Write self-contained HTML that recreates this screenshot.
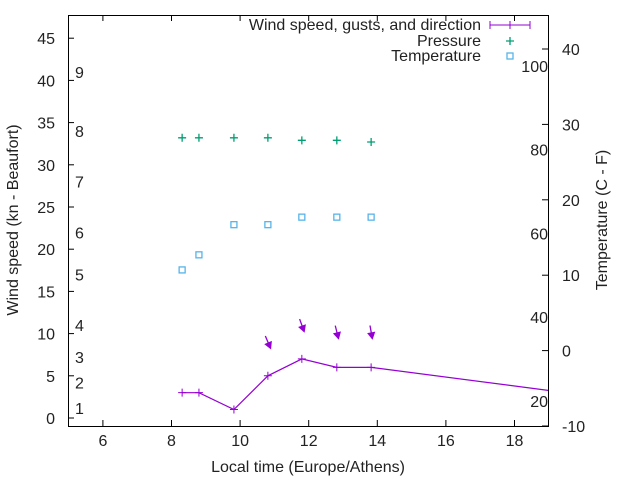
<!DOCTYPE html>
<html><head><meta charset="utf-8"><style>
body{margin:0;background:#fff}
svg text{font-family:"Liberation Sans",sans-serif;font-size:16px;fill:#222}
</style></head><body>
<svg id="chart" width="640" height="480" xmlns="http://www.w3.org/2000/svg">
<rect x="68.5" y="15.5" width="480" height="411" fill="none" stroke="#000" stroke-width="1"/>
<g id="axes"></g>
<g id="series"></g>
<text transform="translate(18,220) rotate(-90)" text-anchor="middle">Wind speed (kn - Beaufort)</text>
<text transform="translate(607,220) rotate(-90)" text-anchor="middle">Temperature (C - F)</text>
<text x="308" y="472" text-anchor="middle">Local time (Europe/Athens)</text>
<g>
<text x="481" y="30" text-anchor="end">Wind speed, gusts, and direction</text>
<line x1="490" y1="25" x2="530" y2="25" stroke="#9400d3"/><line x1="490" y1="21" x2="490" y2="29" stroke="#9400d3"/><line x1="530" y1="21" x2="530" y2="29" stroke="#9400d3"/><line x1="510" y1="21" x2="510" y2="29" stroke="#9400d3"/>
<text x="481" y="46" text-anchor="end">Pressure</text>
<path d="M506,41h8M510,37v8" stroke="#009e73" stroke-width="1.3"/>
<text x="481" y="61" text-anchor="end">Temperature</text>
<rect x="507" y="53" width="6" height="6" fill="none" stroke="#56b4e9" stroke-width="1.3"/>
</g>
</svg>
<script>
const hours=[8.31,8.8,9.82,10.81,11.8,12.82,13.82,19.5];
const windSpeed=[3,3,1,5,7,6,6,3];
const pressureScaled=[33.2,33.2,33.2,33.2,32.9,32.9,32.7];
const temperature=[10.7,12.7,16.7,16.7,17.7,17.7,17.7];
const gustHours=[10.81,11.8,12.82,13.82];
const gusts=[9,11,10.2,10.2];
const windDir=[337,340,346,350];
const xTicks=[6,8,10,12,14,16,18];
const yTicks=[0,5,10,15,20,25,30,35,40,45];
const y2Ticks=[-10,0,10,20,30,40];
const beaufortLabels=["1","2","3","4","5","6","7","8","9"];
const beaufortKn=[1.2,4.2,7.2,11,17,22,28,34,41];
const fLabels=[20,40,60,80,100];

const NS="http://www.w3.org/2000/svg";
const X=h=>68.6+(h-5)*34.3;
const Y=v=>418-v*8.44;
const Y2=t=>426-(t+10)*7.54;
const axes=document.getElementById('axes'),series=document.getElementById('series');
function mk(tag,at,parent){const e=document.createElementNS(NS,tag);for(const k in at)e.setAttribute(k,at[k]);parent.appendChild(e);return e;}
xTicks.forEach(t=>{const x=X(t);
 const l=mk('path',{d:`M${x},426v-6M${x},15v6`,stroke:'#000'},axes);
 
 
 const tx=mk('text',{x:x,y:446,'text-anchor':'middle'},axes);tx.textContent=t;
 
 });
yTicks.forEach(t=>{const y=Y(t);
 const l=mk('path',{d:`M68,${y}h6`,stroke:'#000'},axes);
 
 
 const tx=mk('text',{x:55,y:y+6,'text-anchor':'end'},axes);tx.textContent=t;
 
 });
y2Ticks.forEach(t=>{const y=Y2(t);
 const l=mk('path',{d:`M548,${y}h-6`,stroke:'#000'},axes);
 
 
 const tx=mk('text',{x:562,y:y+6},axes);tx.textContent=t;
 
 });
beaufortLabels.forEach((s,i)=>{const tx=mk('text',{x:75,y:Y(beaufortKn[i])+6},axes);tx.textContent=s;
 
 });
fLabels.forEach(f=>{const c=(f-32)*5/9;const tx=mk('text',{x:548,y:Y2(c)+6,'text-anchor':'end'},axes);tx.textContent=f;
 
 });
mk('clipPath',{id:'clip'},series);
const cr=mk('rect',{x:68,y:15,width:480,height:411},document.getElementById('clip'));
const wl=mk('polyline',{points:hours.map((h,i)=>X(h)+','+Y(windSpeed[i])).join(' '),fill:'none',stroke:'#9400d3','stroke-width':1.2,'clip-path':'url(#clip)'},series);


hours.forEach((h,i)=>{if(h>19)return;const x=X(h),y=Y(windSpeed[i]);
 const m=mk('path',{d:`M${x-4},${y}h8M${x},${y-4}v8`,stroke:'#9400d3'},series);
 
 });
gustHours.forEach((h,i)=>{const a=windDir[i]*Math.PI/180;const dx=-Math.sin(a)*6.5,dy=Math.cos(a)*6.5;
 const cx=X(h),cy=Y(gusts[i]);const x1=cx-dx,y1=cy-dy,x2=cx+dx,y2=cy+dy;
 const ang=Math.atan2(y2-y1,x2-x1);
 const hx1=x2-6*Math.cos(ang-0.5),hy1=y2-6*Math.sin(ang-0.5),hx2=x2-6*Math.cos(ang+0.5),hy2=y2-6*Math.sin(ang+0.5);
 const g=mk('g',{},series);
 
 
 mk('line',{x1:x1,y1:y1,x2:x2,y2:y2,stroke:'#9400d3','stroke-width':1.3},g);
 mk('polygon',{points:`${x2},${y2} ${hx1},${hy1} ${hx2},${hy2}`,fill:'#9400d3',stroke:'#9400d3','stroke-width':1.5},g);});
pressureScaled.forEach((p,i)=>{const x=X(hours[i]),y=Y(p);
 const m=mk('path',{d:`M${x-4},${y}h8M${x},${y-4}v8`,stroke:'#009e73','stroke-width':1.3},series);
 
 });
temperature.forEach((t,i)=>{const x=X(hours[i]),y=Y2(t);
 const m=mk('rect',{x:x-3,y:y-3,width:6,height:6,fill:'none',stroke:'#56b4e9','stroke-width':1.3},series);
 
 });
</script>
</body></html>
